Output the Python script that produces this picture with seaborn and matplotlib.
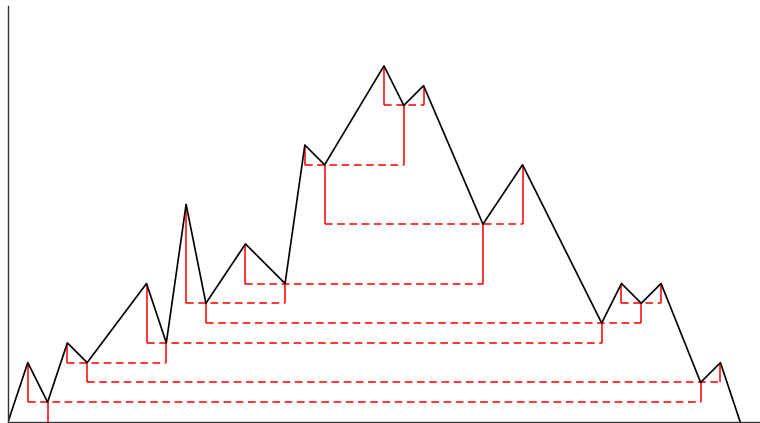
import numpy as np
import pandas as pd
import seaborn as sns
import matplotlib
matplotlib.use("Agg")
import matplotlib.pyplot as plt

# Data: piecewise linear profile (x positions, heights)
xs = [0, 1, 2, 3, 4, 7, 8, 9, 10, 12, 14, 15, 16, 19, 20, 21, 24, 26, 30, 31, 32, 33, 35, 36, 37]
ys = [0, 3, 1, 4, 3, 7, 4, 11, 6, 9, 7, 14, 13, 18, 16, 17, 10, 13, 5, 7, 6, 7, 2, 3, 0]

sns.set_style("white")
fig = plt.figure(figsize=(7.6, 4.23), dpi=100)
ax = fig.add_axes([8 / 760, 1 / 423, 752 / 760, 415.5 / 423])

df = pd.DataFrame({"x": xs, "y": ys})
sns.lineplot(data=df, x="x", y="y", color="black", lw=1.2, ax=ax, sort=False)

# Cartesian (min-rooted) tree over interior points
def build(lo, hi, parent_val):
    if lo > hi:
        return None
    idx = min(range(lo, hi + 1), key=lambda i: ys[i])
    # vertical from node value down to parent level
    ax.vlines(xs[idx], parent_val, ys[idx], colors="red", lw=1.1, zorder=1)
    left = build(lo, idx - 1, ys[idx])
    right = build(idx + 1, hi, ys[idx])
    xl = xs[left] if left is not None else xs[idx]
    xr = xs[right] if right is not None else xs[idx]
    if xr > xl:
        ax.hlines(ys[idx], xl, xr, colors="red", lw=1.1, linestyles=(0, (5, 3)), zorder=1)
    return idx

build(1, len(xs) - 2, 0)

ax.set_xlim(0, 38)
ax.set_ylim(0, 21)
ax.set_xticks([])
ax.set_yticks([])
ax.set_xlabel("")
ax.set_ylabel("")
for s in ["top", "right"]:
    ax.spines[s].set_visible(False)
for s in ["left", "bottom"]:
    ax.spines[s].set_color("#333333")
    ax.spines[s].set_linewidth(1.0)

fig.savefig("out.png", dpi=100)
